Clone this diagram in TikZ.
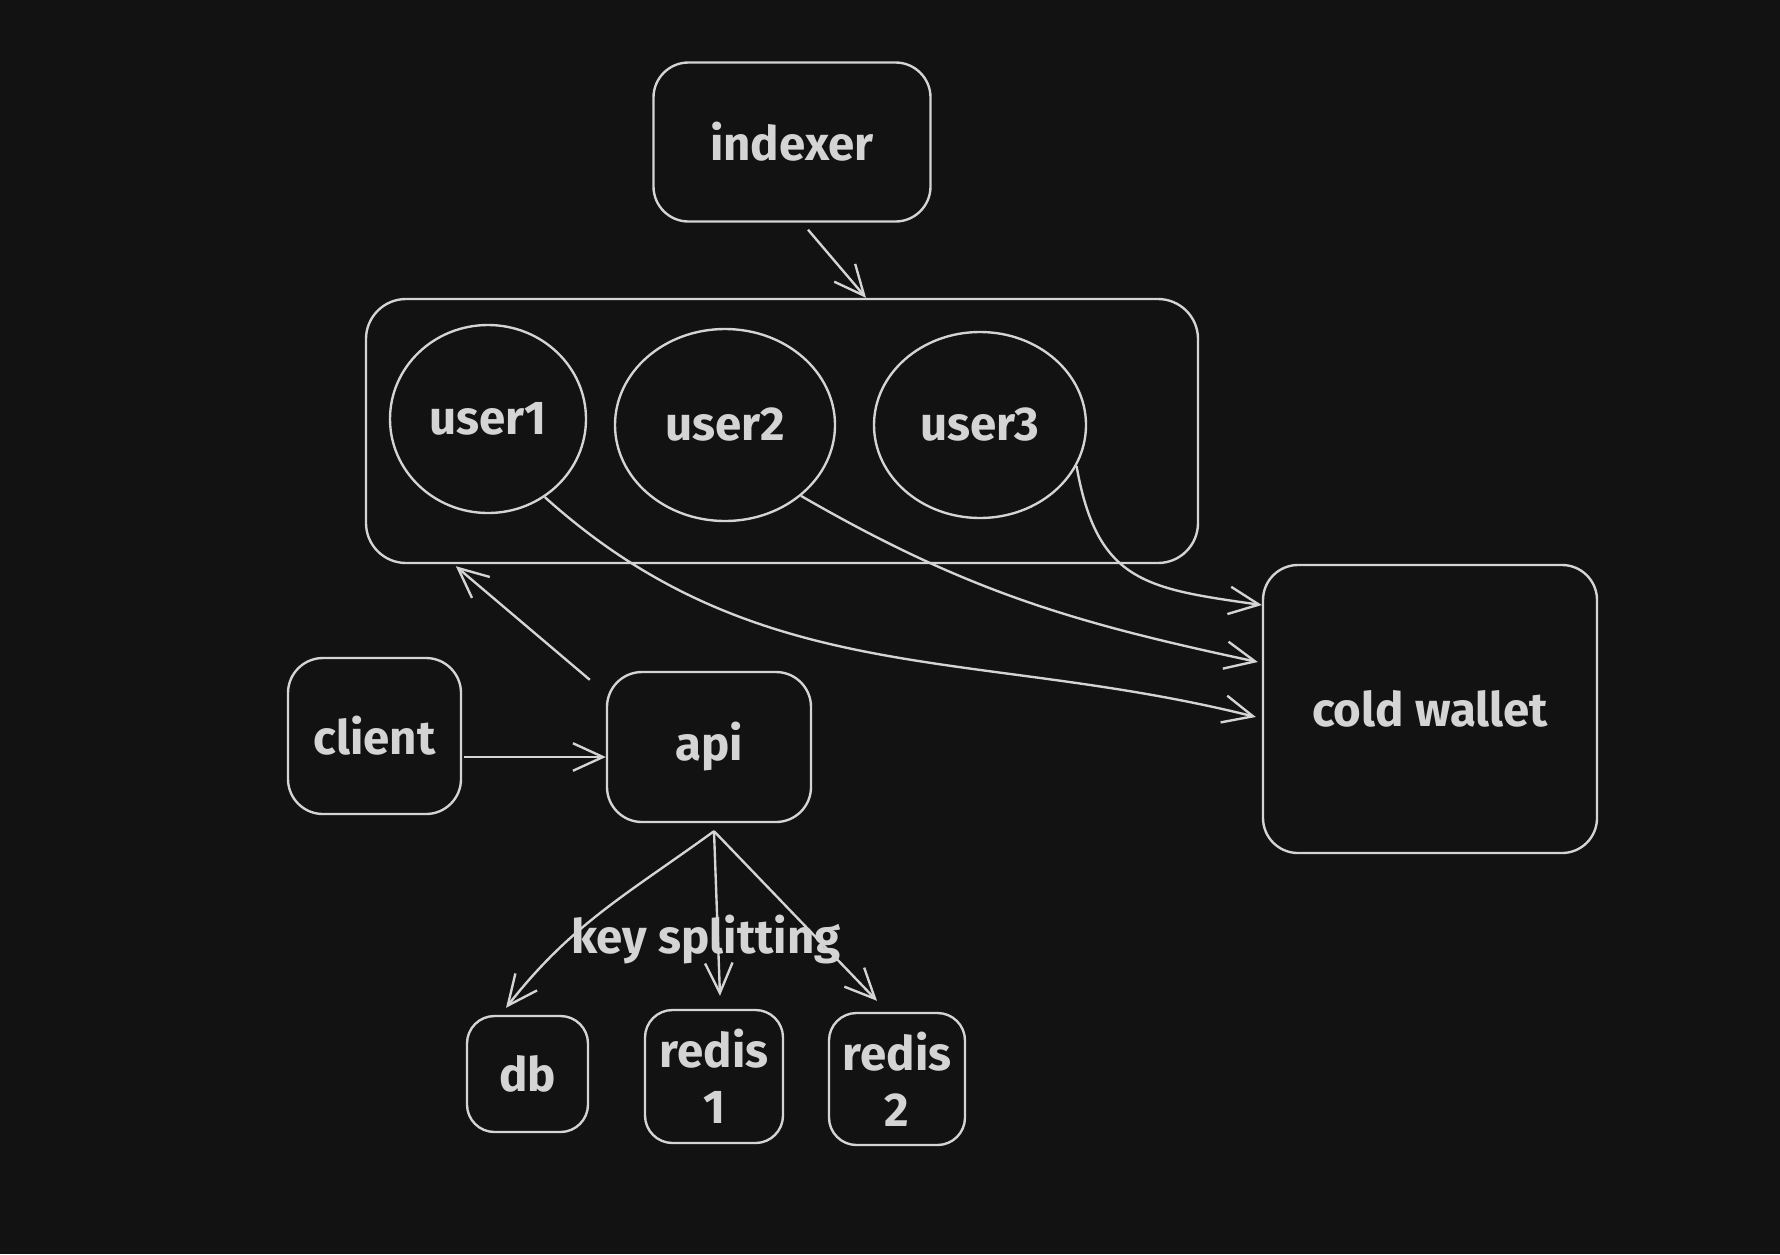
\documentclass[tikz,border=0pt]{standalone}
\usepackage{fontspec}
\setmainfont{Fira Sans}
\usetikzlibrary{arrows.meta, shapes.geometric}
\definecolor{canvas}{HTML}{121212}
\definecolor{ink}{HTML}{D4D4D4}

\begin{document}
\begin{tikzpicture}[every node/.style={font=\fontsize{27}{32}\selectfont\bfseries, text=ink},
    box/.style={draw=ink, line width=1.35pt, rounded corners=0.7cm, inner sep=0pt, align=center},
    user/.style={ellipse, draw=ink, line width=1.35pt, inner sep=0pt},
    link/.style={draw=ink, line width=1.35pt, -{Straight Barb[length=0.6cm, width=0.55cm]}}]

    % canvas
    \fill[canvas] (0,0) rectangle (35.6,-25.08);
    \useasboundingbox (0,0) rectangle (35.6,-25.08);

    % indexer
    \node[box, minimum width=5.54cm, minimum height=3.18cm] (indexer) at (15.84,-2.84) {indexer};

    % user group
    \node[box, rounded corners=0.8cm, minimum width=16.64cm, minimum height=5.28cm] (group) at (15.64,-8.62) {};
    \node[user, minimum width=3.92cm, minimum height=3.76cm] (user1) at (9.76,-8.38) {user1};
    \node[user, minimum width=4.4cm, minimum height=3.84cm] (user2) at (14.5,-8.5) {user2};
    \node[user, minimum width=4.24cm, minimum height=3.72cm] (user3) at (19.6,-8.5) {user3};

    % cold wallet
    \node[box, minimum width=6.68cm, minimum height=5.76cm] (cold) at (28.6,-14.18) {cold wallet};

    % client and api
    \node[box, minimum width=3.46cm, minimum height=3.12cm] (client) at (7.49,-14.72) {client};
    \node[box, minimum width=4.08cm, minimum height=3cm] (api) at (14.18,-14.94) {api};

    % storage
    \node[box, rounded corners=0.55cm, minimum width=2.42cm, minimum height=2.32cm] (db) at (10.55,-21.48) {db};
    \node[box, rounded corners=0.55cm, minimum width=2.76cm, minimum height=2.66cm] (redis1) at (14.28,-21.53) {redis\\1};
    \node[box, rounded corners=0.55cm, minimum width=2.72cm, minimum height=2.64cm] (redis2) at (17.94,-21.58) {redis\\2};

    % indexer -> group
    \draw[link] ([xshift=0.32cm,yshift=-0.14cm]indexer.south) -- ([xshift=1.68cm]group.north);

    % api -> group
    \draw[link] ([xshift=-0.32cm,yshift=-0.18cm]api.north west) -- ([xshift=1.82cm,yshift=-0.04cm]group.south west);

    % client -> api
    \draw[link] ([xshift=0.04cm,yshift=-0.42cm]client.east) -- ([yshift=-0.42cm]client.east -| api.west);

    % users -> cold wallet
    \draw[link] (user1.-54) to[out=-42, in=166] ([xshift=-0.12cm,yshift=-0.16cm]cold.west);
    \draw[link] (user2.-43) to[out=-30, in=168] ([xshift=-0.08cm,yshift=0.94cm]cold.west);
    \draw[link] (user3.-23) to[out=-80, in=172, looseness=1.3] ([yshift=2.08cm]cold.west);

    % key splitting
    \coordinate (split) at ([xshift=0.1cm,yshift=-0.16cm]api.south);
    \draw[link] (split) to[out=-144, in=52] ([xshift=-0.43cm,yshift=0.14cm]db.north);
    \draw[link] (split) -- ([xshift=0.12cm,yshift=0.26cm]redis1.north);
    \draw[link] (split) -- ([xshift=-0.4cm,yshift=0.22cm]redis2.north);
    \node (splitlabel) at (14.12,-18.8) {key splitting};

\end{tikzpicture}
\end{document}
